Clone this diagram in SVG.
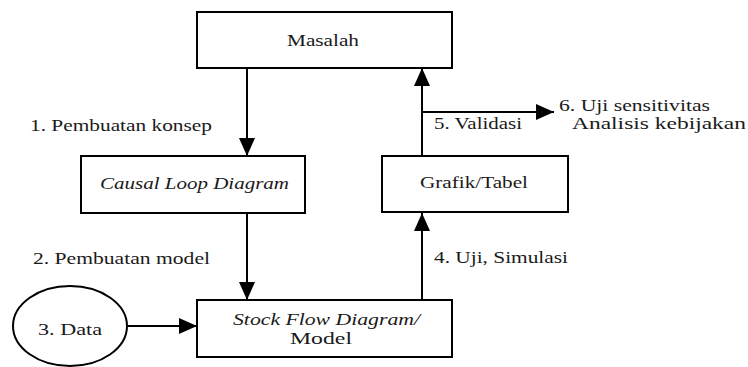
<svg xmlns="http://www.w3.org/2000/svg" width="748" height="367" viewBox="0 0 748 367">
<style>
.box{fill:#fff;stroke:#000;stroke-width:2}
.t{font-family:"Liberation Serif","DejaVu Serif","Noto Serif","Times New Roman",Times,serif;font-size:17px;fill:#1a1a1a}
.i{font-style:italic}
.c{fill:none;stroke:#000;stroke-width:2}
</style>
<defs>
<marker id="ah" markerUnits="userSpaceOnUse" markerWidth="18" markerHeight="16" viewBox="0 0 18 16" refX="18" refY="8" orient="auto">
<path d="M0,0 L18,8 L0,16 Z" fill="#000"/>
</marker>
</defs>
<rect width="748" height="367" fill="#fff"/>
<g id="connectors">
<path class="c" d="M247,68 V156" marker-end="url(#ah)"/>
<path class="c" d="M247,213 V300" marker-end="url(#ah)"/>
<path class="c" d="M128,326 H197" marker-end="url(#ah)"/>
<path class="c" d="M422,300 V213" marker-end="url(#ah)"/>
<path class="c" d="M422,156 V68" marker-end="url(#ah)"/>
<path class="c" d="M422,112 H554" marker-end="url(#ah)"/>
</g>
<g id="masalah">
<rect class="box" x="197" y="12" width="255" height="56"/>
<text class="t" x="287" y="46" textLength="72" lengthAdjust="spacingAndGlyphs">Masalah</text>
</g>
<g id="cld">
<rect class="box" x="81" y="156" width="224" height="57"/>
<text class="t i" x="100" y="189" textLength="189" lengthAdjust="spacingAndGlyphs">Causal Loop Diagram</text>
</g>
<g id="sfd">
<rect class="box" x="197" y="300" width="255" height="57"/>
<text class="t i" x="233" y="325" textLength="187" lengthAdjust="spacingAndGlyphs">Stock Flow Diagram/</text>
<text class="t" x="290" y="344" textLength="62" lengthAdjust="spacingAndGlyphs">Model</text>
</g>
<g id="grafik">
<rect class="box" x="382" y="156" width="186" height="56"/>
<text class="t" x="420" y="188" textLength="108" lengthAdjust="spacingAndGlyphs">Grafik/Tabel</text>
</g>
<g id="data">
<ellipse cx="70" cy="326" rx="57" ry="40" fill="#fff" stroke="#000" stroke-width="2"/>
<text class="t" x="38" y="335" textLength="64" lengthAdjust="spacingAndGlyphs">3. Data</text>
</g>
<g id="labels">
<text class="t" x="30" y="131" textLength="182" lengthAdjust="spacingAndGlyphs">1. Pembuatan konsep</text>
<text class="t" x="33" y="264" textLength="177" lengthAdjust="spacingAndGlyphs">2. Pembuatan model</text>
<text class="t" x="434" y="263" textLength="134" lengthAdjust="spacingAndGlyphs">4. Uji, Simulasi</text>
<text class="t" x="434" y="129" textLength="88" lengthAdjust="spacingAndGlyphs">5. Validasi</text>
<text class="t" x="559" y="111" textLength="151" lengthAdjust="spacingAndGlyphs">6. Uji sensitivitas</text>
<text class="t" x="572" y="129" textLength="174" lengthAdjust="spacingAndGlyphs">Analisis kebijakan</text>
</g>
</svg>
